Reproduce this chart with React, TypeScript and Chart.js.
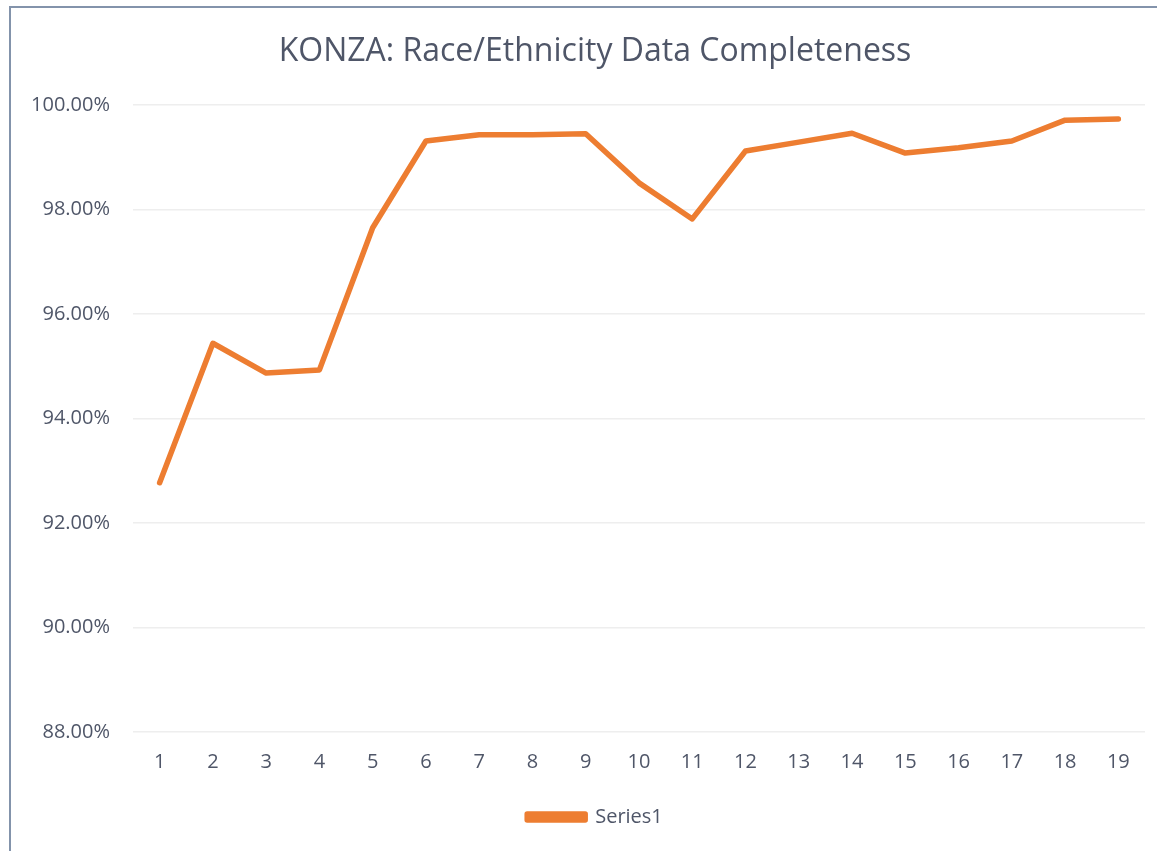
import React, { useEffect, useRef } from "react";
import { Chart, registerables } from "chart.js";

Chart.register(...registerables);

const categories = ["1","2","3","4","5","6","7","8","9","10","11","12","13","14","15","16","17","18","19"];
const series1 = [92.77, 95.44, 94.87, 94.93, 97.65, 99.31, 99.43, 99.43, 99.45, 98.51, 97.82, 99.12, 99.29, 99.46, 99.08, 99.18, 99.31, 99.71, 99.73];
const yTicks = [88, 90, 92, 94, 96, 98, 100];
const titleText = "KONZA: Race/Ethnicity Data Completeness";
const seriesName = "Series1";

const TEXT = "#4f5668";
const FONT = "'Open Sans', sans-serif";

export default function App() {
  const ref = useRef<HTMLCanvasElement | null>(null);
  useEffect(() => {
    if (!ref.current) return;
    const chart = new Chart(ref.current, {
      type: "line",
      data: {
        labels: categories,
        datasets: [
          {
            label: seriesName,
            data: series1,
            borderColor: "#ed7d31",
            backgroundColor: "#ed7d31",
            borderWidth: 5.5,
            pointRadius: 0,
            tension: 0,
            borderCapStyle: "round",
            borderJoinStyle: "round",
          },
        ],
      },
      options: {
        responsive: false,
        animation: false,
        layout: { padding: { left: 45, right: 12, top: 0, bottom: 14 } },
        plugins: {
          title: {
            display: true,
            text: titleText,
            color: TEXT,
            font: { family: FONT, size: 32, weight: "normal" },
            padding: { top: 33, bottom: 33.6 },
          },
          legend: {
            display: true,
            position: "bottom",
            labels: {
              color: TEXT,
              font: { family: FONT, size: 20 },
              boxWidth: 58,
              boxHeight: 6,
              padding: 10,
            },
          },
          tooltip: { enabled: false },
        },
        scales: {
          x: {
            offset: true,
            afterFit: (scale: any) => {
              scale.height = 65;
            },
            grid: { display: false, drawTicks: false },
            border: { display: false },
            ticks: { color: TEXT, font: { family: FONT, size: 20 }, padding: 18, maxRotation: 0 },
          },
          y: {
            min: 88,
            max: 100,
            afterFit: (scale: any) => {
              scale.width = 88;
              scale._computeLabelArea = () => null;
            },
            afterBuildTicks: (scale: any) => {
              scale.ticks = yTicks.map((v) => ({ value: v }));
            },
            grid: { color: "#eeeeee", lineWidth: 1.5, drawTicks: false },
            border: { display: false },
            ticks: {
              color: TEXT,
              font: { family: FONT, size: 20 },
              padding: 23,
              callback: (v: any) => Number(v).toFixed(2) + "%",
            },
          },
        } as any,
      },
    });
    return () => chart.destroy();
  }, []);
  return (
    <div style={{ position: "absolute", left: 0, top: 0, width: 1157, height: 851, background: "#fff", overflow: "hidden" }}>
      <div style={{ position: "absolute", left: 9, top: 6, width: 1160, height: 860, borderLeft: "2px solid #8393ab", borderTop: "2px solid #8393ab" }} />
      <canvas ref={ref} width={1157} height={851} style={{ position: "absolute", left: 0, top: 0, width: 1157, height: 851 }} />
    </div>
  );
}
